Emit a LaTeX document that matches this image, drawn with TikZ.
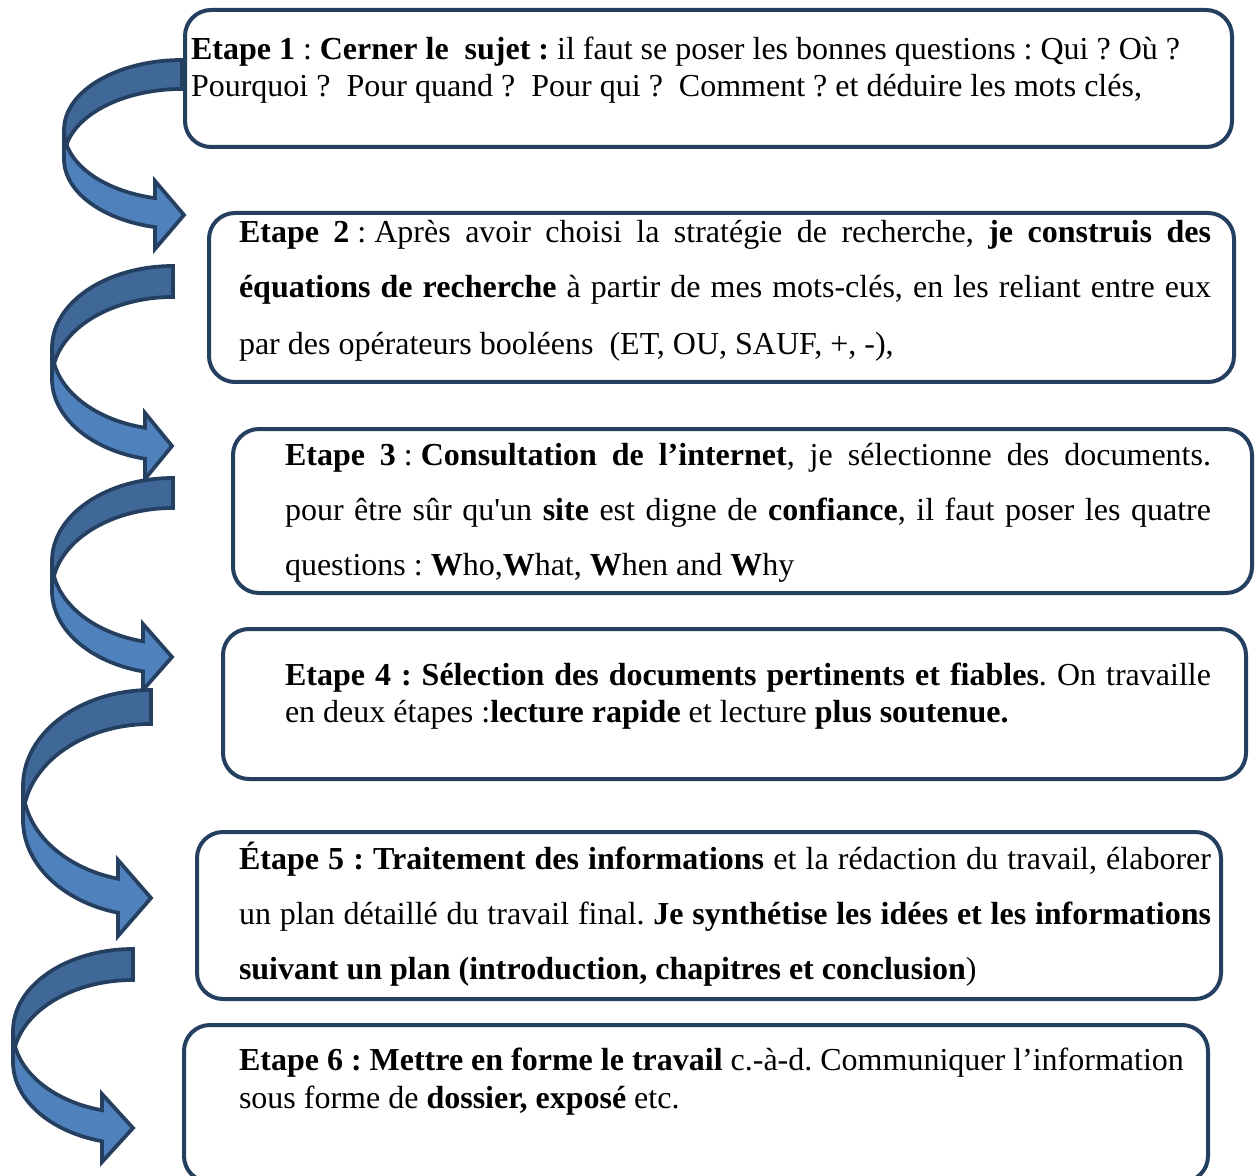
\documentclass[tikz,border=0pt]{standalone}
\usepackage{fontspec}
\setmainfont{Liberation Serif}[Ligatures=TeXOff]
\newlength\pxu
\setlength\pxu{0.375pt}
\newcommand\jl[2]{\makebox[#1\pxu][s]{#2}}
\newcommand\fsp{\kern0.25em}
\definecolor{boxline}{HTML}{243F60}
\definecolor{frontblue}{HTML}{4F81BD}
\definecolor{backblue}{HTML}{3F6797}
\tikzset{
  stepbox/.style={draw=boxline, line width=1.5pt, rounded corners=9.75pt, fill=white, inner sep=0pt, outer sep=0pt},
  txt/.style={anchor=base west, inner sep=0pt, outer sep=0pt, font=\fontsize{12pt}{14pt}\selectfont\frenchspacing},
  backband/.style={fill=backblue, draw=boxline, line width=1.4pt, line join=miter},
  frontband/.style={fill=frontblue, draw=boxline, line width=1.4pt, line join=miter}
}
% #1 xR, #2 yT, #3 thickness, #4 rx, #5 ry, #6 head base x, #7 head half height, #8 tip x, #9 tip y  (pixel units, y downward)
\newcommand{\ribbonarrow}[9]{%
  \pgfmathsetmacro\rxR{#1}\pgfmathsetmacro\ryT{#2}\pgfmathsetmacro\rth{#3}%
  \pgfmathsetmacro\rrx{#4}\pgfmathsetmacro\rry{#5}\pgfmathsetmacro\rxB{#6}%
  \pgfmathsetmacro\rhh{#7}\pgfmathsetmacro\rtx{#8}\pgfmathsetmacro\rty{#9}%
  \pgfmathsetmacro\ryc{\ryT+\rry}%
  \pgfmathsetmacro\rxL{\rxR-\rrx}%
  \pgfmathsetmacro\rang{360-acos((\rxB-\rxR)/\rrx)}%
  \pgfmathsetmacro\ryEa{-\ryc+\rry*sin(\rang)}%
  \pgfmathsetmacro\ryEb{\ryEa-\rth}%
  \pgfmathsetmacro\rRx{\rrx*0.375}%
  \pgfmathsetmacro\rRy{\rry*0.375}%
  \filldraw[backband] (\rxR,-\ryT)
     arc[start angle=90, end angle=180, x radius=\rRx pt, y radius=\rRy pt]
     -- (\rxL,{-\ryc-\rth})
     arc[start angle=180, end angle=90, x radius=\rRx pt, y radius=\rRy pt]
     -- cycle;
  \filldraw[frontband] (\rxL,-\ryc)
     arc[start angle=180, end angle=\rang, x radius=\rRx pt, y radius=\rRy pt]
     -- (\rxB,{-\rty+\rhh}) -- (\rtx,-\rty) -- (\rxB,{-\rty-\rhh}) -- (\rxB,\ryEb)
     arc[start angle=\rang, end angle=180, x radius=\rRx pt, y radius=\rRy pt]
     -- cycle;
}
\begin{document}
\begin{tikzpicture}[x=0.375pt,y=0.375pt]
\useasboundingbox (0,0) rectangle (1256,-1176);
\clip (0,0) rectangle (1256,-1176);

% curved arrows
\ribbonarrow{182}{60}{29}{118}{70}{155}{34}{184}{215}
\ribbonarrow{173}{266}{31}{121}{82}{145}{33}{172}{446}
\ribbonarrow{173}{478}{30}{121}{83}{143}{33}{172}{657}
\ribbonarrow{151}{690}{34}{128}{96}{118}{38}{151}{898}
\ribbonarrow{133}{949}{31}{120}{82}{102}{34}{133}{1128}

% boxes
\node[stepbox, minimum width={1047*0.375pt}, minimum height={137*0.375pt}] (b1) at (708.5,-78.5) {};
\node[stepbox, minimum width={1025*0.375pt}, minimum height={169*0.375pt}] (b2) at (721.5,-297.5) {};
\node[stepbox, minimum width={1019*0.375pt}, minimum height={164*0.375pt}] (b3) at (742.5,-511) {};
\node[stepbox, minimum width={1023*0.375pt}, minimum height={150*0.375pt}] (b4) at (734.5,-704) {};
\node[stepbox, minimum width={1024*0.375pt}, minimum height={167*0.375pt}] (b5) at (709,-915.5) {};
\node[stepbox, minimum width={1024*0.375pt}, minimum height={157*0.375pt}] (b6) at (696,-1103.5) {};

% texts
\node[txt] (t1a) at (191,-60) {\textbf{Etape 1} : \textbf{Cerner le\ \ sujet :} il faut se poser les bonnes questions : Qui ? Où ?};
\node[txt] (t1b) at (191,-97) {Pourquoi ?\ \ Pour quand ?\ \ Pour qui ?\ \ Comment ? et déduire les mots clés,};

\node[txt] (t2a) at (239,-243) {\jl{972}{\textbf{Etape 2}\fsp:\fsp Après avoir choisi la stratégie de recherche, \textbf{je construis des}}};
\node[txt] (t2b) at (239,-298) {\jl{972}{\textbf{équations de recherche} à partir de mes mots-clés, en les reliant entre eux}};
\node[txt] (t2c) at (239,-354) {par des opérateurs booléens\ \ (ET, OU, SAUF, +, -),};

\node[txt] (t3a) at (285,-465) {\jl{926}{\textbf{Etape 3}\fsp:\fsp\textbf{Consultation de l’internet}, je sélectionne des documents.}};
\node[txt] (t3b) at (285,-520) {\jl{926}{pour être sûr qu'un \textbf{site} est digne de \textbf{confiance}, il faut poser les quatre}};
\node[txt] (t3c) at (285,-575) {questions : \textbf{W}ho,\textbf{W}hat, \textbf{W}hen and \textbf{W}hy};

\node[txt] (t4a) at (285,-685) {\jl{926}{\textbf{Etape 4 : Sélection des documents pertinents et fiables}. On travaille}};
\node[txt] (t4b) at (285,-722) {en deux étapes :\textbf{lecture rapide} et lecture \textbf{plus soutenue.}};

\node[txt] (t5a) at (239,-869) {\jl{972}{\textbf{Étape 5 : Traitement des informations} et la rédaction du travail, élaborer}};
\node[txt] (t5b) at (239,-924) {\jl{972}{un plan détaillé du travail final. \textbf{Je synthétise les idées et les informations}}};
\node[txt] (t5c) at (239,-979) {\textbf{suivant un plan (introduction, chapitres et conclusion})};

\node[txt] (t6a) at (239,-1070) {\textbf{Etape 6 : Mettre en forme le travail} c.-à-d. Communiquer l’information};
\node[txt] (t6b) at (239,-1108) {sous forme de \textbf{dossier, exposé} etc.};
\end{tikzpicture}
\end{document}
